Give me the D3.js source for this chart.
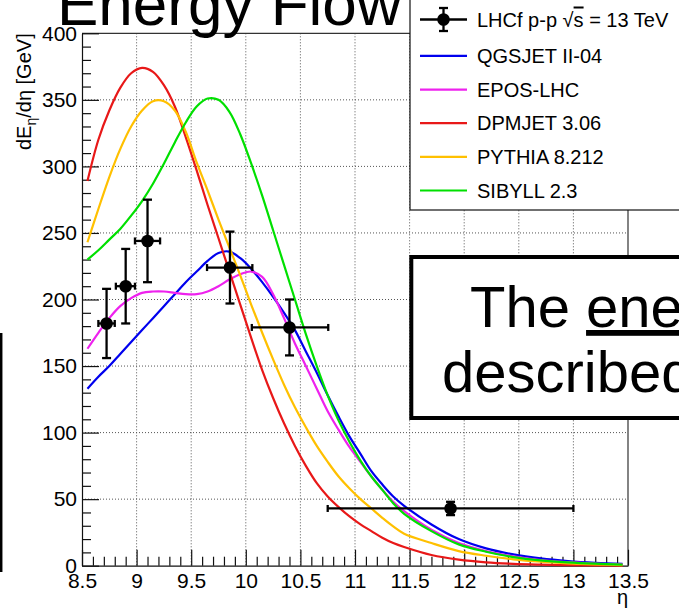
<!DOCTYPE html>
<html>
<head>
<meta charset="utf-8">
<script src="https://cdn.jsdelivr.net/npm/d3@7"></script>
<style>
  html, body { margin: 0; padding: 0; background: #fff; overflow: hidden; }
  svg { display: block; font-family: "Liberation Sans", Arial, Helvetica, sans-serif; }
</style>
</head>
<body>
<svg id="chart" width="679" height="610"></svg>
<script>
// Pseudorapidity grid on which the model predictions are sampled
const etaGrid = [8.55, 8.65, 8.75, 8.85, 8.95, 9.05, 9.15, 9.25, 9.35, 9.45,
                 9.55, 9.65, 9.75, 9.85, 9.95, 10.05, 10.15, 10.25, 10.35, 10.45,
                 10.55, 10.65, 10.75, 10.85, 10.95, 11.05, 11.15, 11.25, 11.35, 11.45,
                 11.7, 11.95, 12.2, 12.45, 12.7, 12.95, 13.2, 13.45];

// Model predictions of dE/deta [GeV]
const qgsjetValues = [133, 142, 150, 159, 168, 177, 186, 195, 204, 213,
                      221, 229, 235, 236, 231, 223, 213, 202, 190, 177,
                      161, 145, 128, 112, 97, 84, 71, 61, 52, 45,
                      31, 20, 13, 8.5, 5.5, 3.5, 2.2, 1.4];
const eposValues   = [163, 175, 186, 195, 201, 205, 206, 206, 205, 204,
                      204, 206, 210, 215, 219, 221, 217, 204, 186, 167,
                      150, 133, 116, 102, 89, 78, 67, 57, 48, 41,
                      27, 17, 11, 7, 4.3, 2.7, 1.6, 1.0];
const dpmjetValues = [289, 320, 342, 359, 370, 374, 371, 361, 345, 322,
                      297, 271, 246, 221, 196, 171, 147, 126, 107, 90,
                      75, 62, 52, 44, 37, 31, 26, 21, 17, 14,
                      8, 4.5, 2.5, 1.4, 0.8, 0.4, 0.2, 0.1];
const pythiaValues = [243, 268, 292, 313, 330, 342, 349, 349, 342, 326,
                      303, 282, 260, 239, 218, 196, 175, 155, 136, 119,
                      104, 90, 78, 67, 58, 50, 43, 36, 29.5, 24,
                      17, 11, 7.5, 4.8, 3, 1.8, 1, 0.5];
const sibyllValues = [230, 237, 245, 253, 263, 274, 287, 302, 318, 333,
                      345, 351, 350, 341, 324, 302, 278, 252, 226, 200,
                      174, 150, 128, 109, 93, 79, 67, 57, 47, 39,
                      26, 16, 10.5, 6.5, 4, 2.5, 1.5, 0.8];

const modelNames  = ["QGSJET II-04", "EPOS-LHC", "DPMJET 3.06", "PYTHIA 8.212", "SIBYLL 2.3"];
const modelColors = ["#0000ee", "#ee22ee", "#e81818", "#ffc000", "#00e000"];
const modelSeries = [qgsjetValues, eposValues, dpmjetValues, pythiaValues, sibyllValues];

// LHCf measurement: bin centres, bin edges, values and errors
const lhcfEta     = [8.725, 8.90, 9.10, 9.855, 10.40, 11.875];
const lhcfEtaLow  = [8.65, 8.81, 8.985, 9.645, 10.055, 10.75];
const lhcfEtaHigh = [8.80, 8.985, 9.215, 10.06, 10.755, 13.0];
const lhcfValue   = [182, 210, 244, 224, 179, 43];
const lhcfError   = [26, 28, 31, 27, 21, 5];
const dataLabel   = "LHCf p-p ";

// Axis ticks
const xMajorTicks = [8.5, 9, 9.5, 10, 10.5, 11, 11.5, 12, 12.5, 13, 13.5];
const xTickLabels = ["8.5", "9", "9.5", "10", "10.5", "11", "11.5", "12", "12.5", "13", "13.5"];
const yMajorTicks = [0, 50, 100, 150, 200, 250, 300, 350, 400];
const yTickLabels = ["0", "50", "100", "150", "200", "250", "300", "350", "400"];

const svg = d3.select("#chart");
const frame = { left: 82, right: 628, top: 33.3, bottom: 565.7 };

const x = d3.scaleLinear().domain([8.5, 13.5]).range([frame.left, frame.right]);
const y = d3.scaleLinear().domain([0, 400]).range([frame.bottom, frame.top]);

// Grid
const grid = svg.append("g").attr("stroke", "#555").attr("stroke-width", 1)
  .attr("stroke-dasharray", "1,2");
grid.selectAll("line.gx").data(xMajorTicks.slice(1, -1)).join("line")
  .attr("x1", d => x(d)).attr("x2", d => x(d))
  .attr("y1", frame.top).attr("y2", frame.bottom);
grid.selectAll("line.gy").data(yMajorTicks.slice(1, -1)).join("line")
  .attr("x1", frame.left).attr("x2", frame.right)
  .attr("y1", d => y(d)).attr("y2", d => y(d));

// Frame (top and right edges)
svg.append("path")
  .attr("d", `M${frame.left},${frame.top}H${frame.right}V${frame.bottom}`)
  .attr("fill", "none").attr("stroke", "#333").attr("stroke-width", 1.2);

// X axis: minor then major ticks pointing into the frame
const xMinor = d3.range(85, 136).map(v => v / 10).filter(v => Math.abs(v * 2 - Math.round(v * 2)) > 1e-6);
svg.append("g").attr("transform", `translate(0,${frame.bottom})`)
  .call(d3.axisBottom(x).tickValues(xMinor).tickSizeInner(-9).tickSizeOuter(0).tickFormat(""))
  .call(g => g.select(".domain").remove())
  .call(g => g.selectAll("line").attr("stroke", "#111").attr("stroke-width", 1.2));
svg.append("g").attr("transform", `translate(0,${frame.bottom})`)
  .call(d3.axisBottom(x).tickValues(xMajorTicks).tickSizeInner(-16).tickSizeOuter(0)
        .tickPadding(7).tickFormat((d, i) => xTickLabels[i]))
  .call(g => g.select(".domain").attr("stroke", "#111").attr("stroke-width", 1.2))
  .call(g => g.selectAll("line").attr("stroke", "#111").attr("stroke-width", 1.2))
  .call(g => g.selectAll("text").attr("font-size", 21).attr("fill", "#000")
        .attr("font-family", "Liberation Sans, Arial, sans-serif"));

// Y axis
const yMinor = d3.range(0, 401, 10).filter(v => v % 50 !== 0);
svg.append("g").attr("transform", `translate(${frame.left},0)`)
  .call(d3.axisLeft(y).tickValues(yMinor).tickSizeInner(-9).tickSizeOuter(0).tickFormat(""))
  .call(g => g.select(".domain").remove())
  .call(g => g.selectAll("line").attr("stroke", "#111").attr("stroke-width", 1.2));
svg.append("g").attr("transform", `translate(${frame.left},0)`)
  .call(d3.axisLeft(y).tickValues(yMajorTicks).tickSizeInner(-17).tickSizeOuter(0)
        .tickPadding(5).tickFormat((d, i) => yTickLabels[i]))
  .call(g => g.select(".domain").attr("stroke", "#111").attr("stroke-width", 1.2))
  .call(g => g.selectAll("line").attr("stroke", "#111").attr("stroke-width", 1.2))
  .call(g => g.selectAll("text").attr("font-size", 21).attr("fill", "#000")
        .attr("font-family", "Liberation Sans, Arial, sans-serif"));

// Axis titles
const yTitle = svg.append("text")
  .attr("transform", `translate(31,${frame.top}) rotate(-90)`)
  .attr("text-anchor", "end").attr("font-size", 20).attr("fill", "#000");
yTitle.append("tspan").text("dE");
yTitle.append("tspan").attr("font-size", 14).attr("dy", 5).text("η");
yTitle.append("tspan").attr("dy", -5).text("/dη [GeV]");

svg.append("text").attr("x", frame.right).attr("y", 604)
  .attr("text-anchor", "end").attr("font-size", 20).text("η");

// Model curves
const curve = d3.line()
  .x((d, i) => x(etaGrid[i]))
  .y(d => y(d))
  .curve(d3.curveCatmullRom.alpha(0.5));
svg.append("g").selectAll("path").data(modelSeries).join("path")
  .attr("d", d => curve(d))
  .attr("fill", "none")
  .attr("stroke", (d, i) => modelColors[i])
  .attr("stroke-width", 2.2);

// LHCf data points with error bars
const pts = svg.append("g").attr("stroke", "#000").attr("stroke-width", 2.3);
lhcfEta.forEach((eta, i) => {
  const cx = x(eta), cy = y(lhcfValue[i]);
  const yTop = y(lhcfValue[i] + lhcfError[i]), yBot = y(lhcfValue[i] - lhcfError[i]);
  const xl = x(lhcfEtaLow[i]), xr = x(lhcfEtaHigh[i]);
  pts.append("line").attr("x1", xl).attr("x2", xr).attr("y1", cy).attr("y2", cy);
  pts.append("line").attr("x1", cx).attr("x2", cx).attr("y1", yTop).attr("y2", yBot);
  pts.append("line").attr("x1", xl).attr("x2", xl).attr("y1", cy - 3.5).attr("y2", cy + 3.5);
  pts.append("line").attr("x1", xr).attr("x2", xr).attr("y1", cy - 3.5).attr("y2", cy + 3.5);
  pts.append("line").attr("x1", cx - 4.5).attr("x2", cx + 4.5).attr("y1", yTop).attr("y2", yTop);
  pts.append("line").attr("x1", cx - 4.5).attr("x2", cx + 4.5).attr("y1", yBot).attr("y2", yBot);
  pts.append("circle").attr("cx", cx).attr("cy", cy).attr("r", 6.3)
    .attr("fill", "#000").attr("stroke", "none");
});

// Legend
const legend = svg.append("g");
legend.append("rect").attr("x", 410).attr("y", -5).attr("width", 300).attr("height", 215)
  .attr("fill", "#fff").attr("stroke", "#111").attr("stroke-width", 1.2);
const rowY = i => i === 0 ? 19.5 : 55.9 + (i - 1) * 33.65;
// data entry
const ly0 = rowY(0);
const lg = legend.append("g").attr("stroke", "#000").attr("stroke-width", 2.3);
lg.append("line").attr("x1", 420).attr("x2", 467).attr("y1", ly0).attr("y2", ly0);
lg.append("line").attr("x1", 443.5).attr("x2", 443.5).attr("y1", ly0 - 11.5).attr("y2", ly0 + 11.5);
lg.append("line").attr("x1", 439).attr("x2", 448).attr("y1", ly0 - 11.5).attr("y2", ly0 - 11.5);
lg.append("line").attr("x1", 439).attr("x2", 448).attr("y1", ly0 + 11.5).attr("y2", ly0 + 11.5);
lg.append("circle").attr("cx", 443.5).attr("cy", ly0).attr("r", 6.3).attr("fill", "#000").attr("stroke", "none");
const dataText = legend.append("text").attr("x", 477).attr("y", ly0 + 7).attr("font-size", 20);
dataText.append("tspan").text(dataLabel);
dataText.append("tspan").text("√");
dataText.append("tspan").style("text-decoration", "overline").text("s");
dataText.append("tspan").text(" = 13 TeV");
// model entries
modelNames.forEach((name, i) => {
  const ly = rowY(i + 1);
  legend.append("line").attr("x1", 420).attr("x2", 467).attr("y1", ly).attr("y2", ly)
    .attr("stroke", modelColors[i]).attr("stroke-width", 2.2);
  legend.append("text").attr("x", 477).attr("y", ly + 7).attr("font-size", 20).text(name);
});

// Slide title
svg.append("text").attr("x", 57).attr("y", 25).attr("font-size", 62).attr("fill", "#000")
  .text("Energy Flow");

// Conclusion box
svg.append("rect").attr("x", 411.3).attr("y", 257).attr("width", 320).attr("height", 161)
  .attr("fill", "#fff").attr("stroke", "#000").attr("stroke-width", 4);
const msg1 = svg.append("text").attr("x", 470).attr("y", 327).attr("font-size", 58);
msg1.append("tspan").text("The ");
msg1.append("tspan").style("text-decoration", "underline").text("energy flow");
svg.append("text").attr("x", 442).attr("y", 392).attr("font-size", 58).text("described by models");

// Edge of the neighbouring box on the left
svg.append("line").attr("x1", 1.2).attr("x2", 1.2).attr("y1", 333).attr("y2", 572)
  .attr("stroke", "#000").attr("stroke-width", 2.5);
</script>
</body>
</html>
